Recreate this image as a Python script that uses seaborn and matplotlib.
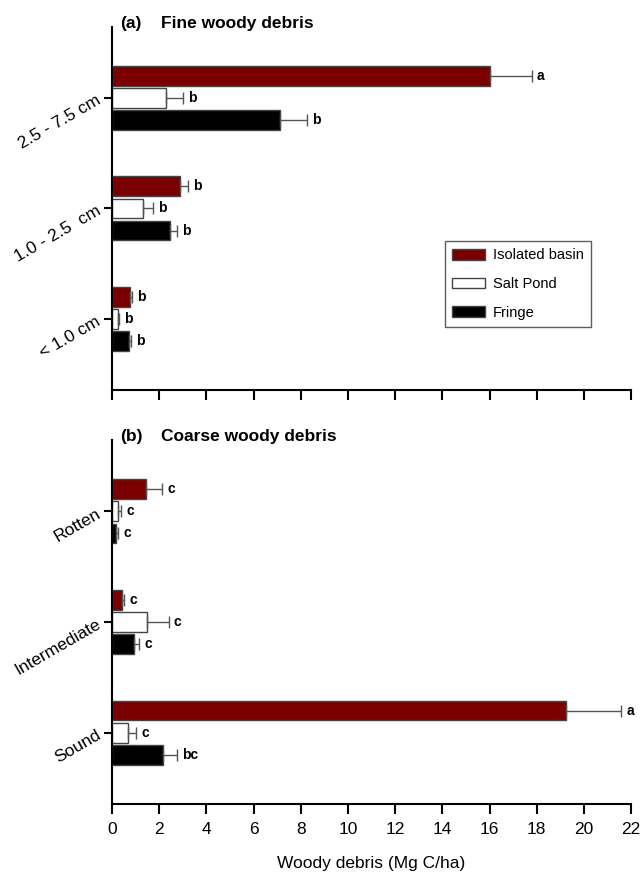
import numpy as np
import pandas as pd
import seaborn as sns
import matplotlib.pyplot as plt
from matplotlib.patches import Patch

sites = ["Isolated basin", "Salt Pond", "Fringe"]
colors = ["#7a0000", "#ffffff", "#000000"]

fine_classes = ["2.5 - 7.5 cm", "1.0 - 2.5  cm", "< 1.0 cm"]
fine_mean = {"Isolated basin": [16.0, 2.88, 0.78],
             "Salt Pond": [2.30, 1.30, 0.24],
             "Fringe": [7.13, 2.47, 0.71]}
fine_se = {"Isolated basin": [1.78, 0.35, 0.05],
           "Salt Pond": [0.69, 0.43, 0.06],
           "Fringe": [1.12, 0.28, 0.08]}
fine_letters = {"Isolated basin": ["a", "b", "b"],
                "Salt Pond": ["b", "b", "b"],
                "Fringe": ["b", "b", "b"]}

coarse_classes = ["Rotten", "Intermediate", "Sound"]
coarse_mean = {"Isolated basin": [1.43, 0.41, 19.25],
               "Salt Pond": [0.24, 1.50, 0.66],
               "Fringe": [0.17, 0.95, 2.18]}
coarse_se = {"Isolated basin": [0.71, 0.12, 2.32],
             "Salt Pond": [0.15, 0.90, 0.36],
             "Fringe": [0.09, 0.21, 0.57]}
coarse_letters = {"Isolated basin": ["c", "c", "a"],
                  "Salt Pond": ["c", "c", "c"],
                  "Fringe": ["c", "c", "bc"]}

sns.set_style("ticks")
plt.rcParams["font.family"] = ["Liberation Sans", "DejaVu Sans"]
plt.rcParams["text.color"] = "black"
plt.rcParams["xtick.color"] = "black"
plt.rcParams["ytick.color"] = "black"
plt.rcParams["axes.edgecolor"] = "black"
plt.rcParams["axes.labelcolor"] = "black"


def to_long(classes, means):
    rows = []
    for s in sites:
        for c, v in zip(classes, means[s]):
            rows.append({"cls": c, "site": s, "val": v})
    return pd.DataFrame(rows)


def panel(ax, classes, means, ses, letters, tag, title):
    df = to_long(classes, means)
    sns.barplot(data=df, y="cls", x="val", hue="site", order=classes,
                hue_order=sites, palette=colors, saturation=1, orient="h",
                width=0.6, gap=0.1, errorbar=None, legend=False, ax=ax,
                edgecolor="#444444", linewidth=1)
    for i, s in enumerate(sites):
        for bar, v, e, lab in zip(ax.containers[i], means[s], ses[s], letters[s]):
            yc = bar.get_y() + bar.get_height() / 2
            ax.errorbar(v, yc, xerr=[[0], [e]], fmt="none", ecolor="#555555",
                        elinewidth=1, capsize=4.5, capthick=1)
            ax.text(v + e + 0.22, yc, lab, va="center", ha="left",
                    fontsize=10, fontweight="bold")
    ax.set_xlim(0, 22)
    ax.set_ylim(2.645, -0.645)
    ax.set_xticks(np.arange(0, 23, 2))
    ax.set_ylabel("")
    ax.set_xlabel("")
    sns.despine(ax=ax)
    for sp in ["left", "bottom"]:
        ax.spines[sp].set_linewidth(1.5)
    ax.tick_params(axis="both", width=1.5, length=6, labelsize=12.5)
    ax.tick_params(axis="x", length=7, pad=6)
    ax.tick_params(axis="y", rotation=30)
    for t in ax.get_yticklabels():
        t.set_ha("right")
        t.set_rotation_mode("anchor")
    ax.text(0.015, 0.99, tag, transform=ax.transAxes, fontsize=12.5,
            fontweight="bold", va="bottom")
    ax.text(0.094, 0.99, title, transform=ax.transAxes, fontsize=12.5,
            fontweight="bold", va="bottom")


fig = plt.figure(figsize=(6.41, 8.72), dpi=100)
ax1 = fig.add_axes([0.1747, 0.5528, 0.81, 0.4163])
ax2 = fig.add_axes([0.1747, 0.078, 0.81, 0.4174])

panel(ax1, fine_classes, fine_mean, fine_se, fine_letters, "(a)", "Fine woody debris")
panel(ax2, coarse_classes, coarse_mean, coarse_se, coarse_letters, "(b)", "Coarse woody debris")

ax1.set_xticklabels([])
ax2.set_xlabel("Woody debris (Mg C/ha)", fontsize=12.5, labelpad=14)

handles = [Patch(facecolor=c, edgecolor="#444444", label=s) for s, c in zip(sites, colors)]
leg = ax1.legend(handles=handles, loc="lower left", bbox_to_anchor=(0.6416, 0.1736),
                 borderaxespad=0, frameon=True, fancybox=False, edgecolor="#333333",
                 fontsize=10.5, handlelength=2.25, handleheight=0.75,
                 handletextpad=0.55, labelspacing=1.0, borderpad=0.5)
leg.get_frame().set_linewidth(1)

fig.savefig("out.png", dpi=100)
